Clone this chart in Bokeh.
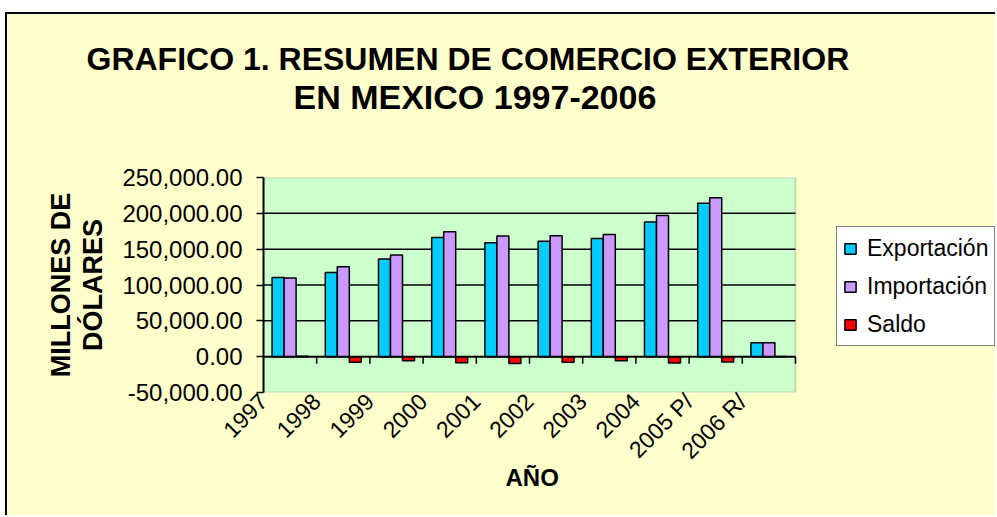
from math import pi
from bokeh.plotting import figure
from bokeh.models import (Range1d, FixedTicker, NumeralTickFormatter, Legend, BoxAnnotation,
                          LegendItem, Title, ColumnDataSource)
from bokeh.transform import dodge
from bokeh.embed import file_html
from bokeh.resources import INLINE

# ---- data (millones de dólares) ----
years = ["1997", "1998", "1999", "2000", "2001", "2002", "2003", "2004", "2005 P/", "2006 R/"]
exportacion = [110431, 117539, 136362, 166121, 158780, 161046, 164766, 187999, 214233, 19400]
importacion = [109808, 125373, 141975, 174458, 168396, 168679, 170546, 196810, 221820, 19400]
saldo = [623, -7834, -5613, -8337, -9617, -7633, -5780, -8811, -7587, 100]
y_ticks = [-50000, 0, 50000, 100000, 150000, 200000, 250000]

FONT = "Liberation Sans"
n = len(years)
y_lo, y_hi = y_ticks[0], y_ticks[-1]

# layout (pixels): plot area 532 px wide, frame runs to the right page edge
LEFT, AREA_W, FRAME_W = 256, 532, 734
src = ColumnDataSource(dict(pos=[i + 0.5 for i in range(n)],
                            exp=exportacion, imp=importacion, sal=saldo))

p = figure(width=LEFT + FRAME_W, height=503,
           x_range=Range1d(0, n * FRAME_W / AREA_W), y_range=Range1d(y_lo, y_hi),
           output_backend="svg", toolbar_location=None, title=None,
           min_border_left=LEFT, min_border_right=0, min_border_top=161, min_border_bottom=125,
           background_fill_color="#FFFFCC", border_fill_color="#FFFFCC",
           outline_line_color=None,
           margin=(12, 0, 0, 5),
           styles={"border-top": "2px solid black", "border-left": "2px solid black"})

# plot area (green) with grey border
p.add_layout(BoxAnnotation(left=0, right=n, bottom=y_lo, top=y_hi, level="underlay",
                           fill_color="#CCFFCC", fill_alpha=1.0,
                           line_color="#808080", line_width=2))
p.xgrid.visible = False
p.ygrid.visible = False
grid = y_ticks[2:-1]
p.segment(x0=[0] * len(grid), x1=[n] * len(grid), y0=grid, y1=grid,
          line_color="black", line_width=1.5)

w = 0.2256
r1 = p.vbar(x=dodge("pos", -w), top="exp", width=w, source=src,
            fill_color="#00CCFF", line_color="black", line_width=1.5)
r2 = p.vbar(x="pos", top="imp", width=w, source=src,
            fill_color="#CC99FF", line_color="black", line_width=1.5)
r3 = p.vbar(x=dodge("pos", w), top="sal", width=w, source=src,
            fill_color="#FF0000", line_color="black", line_width=1.5)

# zero axis line with category-boundary ticks
p.segment(x0=[0], x1=[n], y0=[0], y1=[0], line_color="black", line_width=2)
p.ray(x=[i + 1 for i in range(n)], y=0, length=7, length_units="screen", angle=-pi / 2,
      line_color="black", line_width=1.5)

# y axis
yax = p.yaxis[0]
yax.ticker = FixedTicker(ticks=y_ticks)
yax.formatter = NumeralTickFormatter(format="0,0.00")
yax.major_label_text_font = FONT
yax.major_label_text_font_size = "24px"
yax.major_label_text_color = "black"
yax.axis_line_width = 2
yax.axis_line_color = "black"
yax.major_tick_out = 7
yax.major_tick_in = 0
yax.major_tick_line_width = 1.5
yax.minor_tick_line_color = None
yax.major_label_standoff = 14

# x axis (labels only, below the plot area)
xax = p.xaxis[0]
xax.ticker = FixedTicker(ticks=list(range(n)))
xax.major_label_overrides = {i: years[i] for i in range(n)}
xax.major_label_orientation = pi / 4
xax.major_label_text_font = FONT
xax.major_label_text_font_size = "23px"
xax.major_label_text_color = "black"
xax.axis_line_color = None
xax.major_tick_line_color = None
xax.minor_tick_line_color = None
xax.major_label_standoff = -1

# titles
bold = dict(text_font=FONT, text_font_style="bold", text_color="black")
p.add_layout(Title(text="EN MEXICO 1997-2006", align="left", offset=30, standoff=123,
                   text_font_size="34px", **bold), "above")
p.add_layout(Title(text="GRAFICO 1. RESUMEN DE COMERCIO EXTERIOR", align="left", offset=-177,
                   standoff=-124, text_font_size="32px", **bold), "above")
p.add_layout(Title(text="DÓLARES", align="center", standoff=24,
                   text_font_size="27px", **bold), "left")
p.add_layout(Title(text="MILLONES DE", align="center", standoff=-24,
                   text_font_size="27px", **bold), "left")
p.add_layout(Title(text="AÑO", align="left", offset=242, standoff=-28,
                   text_font_size="24px", **bold), "below")

legend = Legend(items=[LegendItem(label="Exportación", renderers=[r1]),
                       LegendItem(label="Importación", renderers=[r2]),
                       LegendItem(label="Saldo", renderers=[r3])],
                location=(AREA_W + 41, 46), margin=0, padding=6, spacing=8,
                label_height=30, glyph_width=14, glyph_height=13, label_standoff=10,
                label_text_font=FONT, label_text_font_size="23px", label_text_color="black",
                border_line_color="black", border_line_width=1.5,
                background_fill_color="white", background_fill_alpha=1.0)
p.add_layout(legend)

open("out.html", "w").write(file_html(p, INLINE))
